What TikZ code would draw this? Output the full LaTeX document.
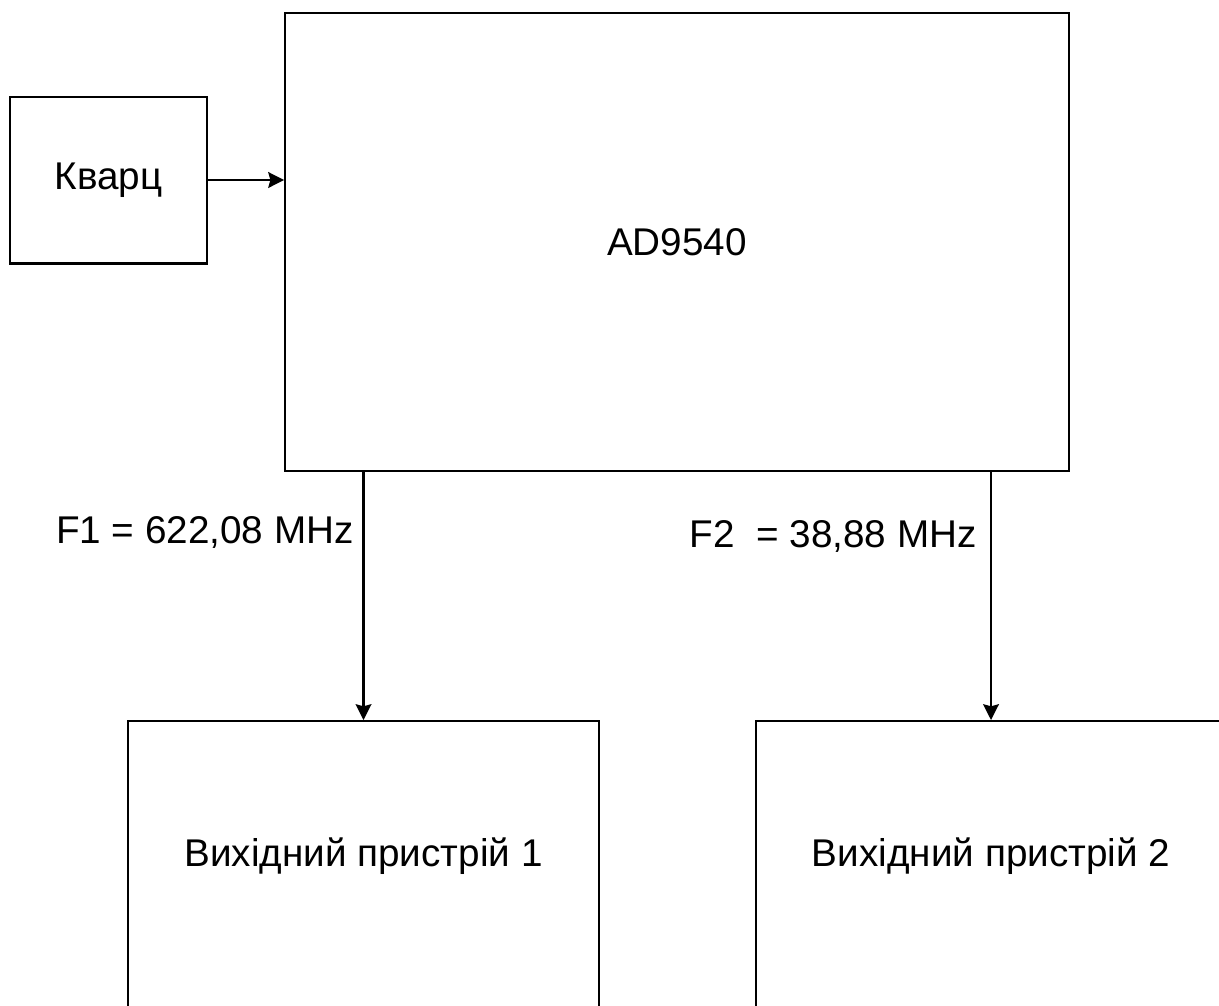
\documentclass[tikz,border=0pt]{standalone}
\usepackage{fontspec}
\setmainfont{Liberation Sans}
\usepackage{tikz}
\usetikzlibrary{positioning,arrows.meta}

\begin{document}
\begin{tikzpicture}[
  x=0.02cm, y=-0.02cm,
  font=\fontsize{22}{26}\selectfont,
  >={Stealth[length=9pt,width=9pt,inset=1.2pt]},
  blockbox/.style={rectangle, draw=black, line width=1.15pt, inner sep=0pt},
  sigmap/.style={->, draw=black, line width=1.15pt},
  freqlbl/.style={inner sep=0pt, anchor=base east}
]
  \useasboundingbox (0,0) rectangle (1219,1005);
  \clip (0,0) rectangle (1219,1005);
  \node[blockbox, minimum width=3.94cm, minimum height=3.34cm] (kvarc) at (108.5,180) {Кварц};
  \node[blockbox, minimum width=15.68cm, minimum height=9.16cm] (ad) at (677,242) {AD9540};
  \node[blockbox, minimum width=9.42cm, minimum height=8cm, anchor=north] (out1) at (363.5,720) {};
  \node[blockbox, minimum width=9.42cm, minimum height=8cm, anchor=north] (out2) at (991,720) {};
  \node (out1lbl) at (363.5,856) {Вихідний пристрій 1};
  \node (out2lbl) at (991,856) {Вихідний пристрій 2};
  \draw[sigmap] (kvarc.east) -- (kvarc.east -| ad.west);
  \draw[sigmap] (out1.north |- ad.south) -- (out1.north);
  \draw[sigmap] (out2.north |- ad.south) -- (out2.north);
  \node[freqlbl] (f1) at (354,543) {F1 = 622,08 MHz};
  \node[freqlbl] (f2) at (977,547) {F2\ \ = 38,88 MHz};
\end{tikzpicture}
\end{document}
